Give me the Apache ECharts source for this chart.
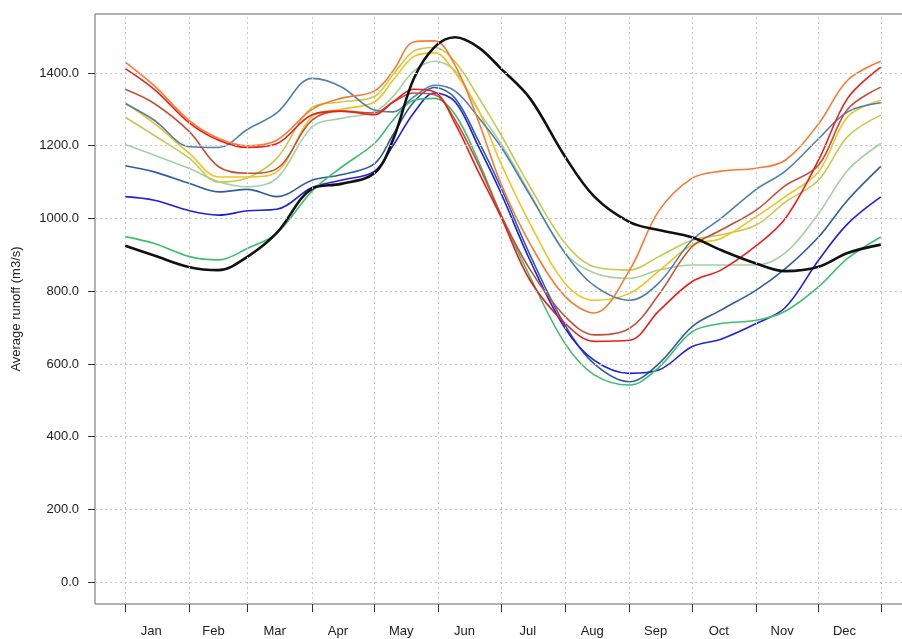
<!DOCTYPE html>
<html>
<head>
<meta charset="utf-8">
<script src="https://cdn.jsdelivr.net/npm/echarts@6/dist/echarts.min.js"></script>
<style>
  html, body { margin: 0; padding: 0; background: #fff; }
  #chart { width: 902px; height: 639px; }
</style>
</head>
<body>
<div id="chart"></div>
<script>
// day of year for each sample
var days = [1, 15, 32, 46, 60, 74, 91, 105, 121, 130, 140, 150, 160, 171, 182, 196, 213, 227, 244, 258, 274, 288, 305, 319, 335, 349, 365];

var orange      = [1430, 1365, 1268, 1220, 1200, 1215, 1300, 1330, 1350, 1405, 1485, 1488, 1420, 1270, 1096, 931, 785, 740, 858, 1020, 1110, 1130, 1138, 1160, 1260, 1380, 1432];
var red         = [1412, 1355, 1262, 1215, 1195, 1205, 1285, 1295, 1285, 1320, 1355, 1348, 1260, 1130, 1004, 830, 711, 662, 665, 745, 826, 858, 925, 1000, 1160, 1330, 1416];
var brown       = [1355, 1316, 1238, 1142, 1124, 1137, 1270, 1295, 1290, 1320, 1345, 1340, 1270, 1150, 1010, 860, 730, 680, 698, 790, 922, 968, 1023, 1090, 1146, 1300, 1361];
var steelblue   = [1316, 1270, 1197, 1195, 1245, 1290, 1385, 1362, 1298, 1293, 1334, 1366, 1350, 1279, 1197, 1064, 904, 815, 775, 822, 940, 1000, 1080, 1130, 1219, 1293, 1318];
var yellow      = [1318, 1261, 1178, 1114, 1114, 1128, 1280, 1300, 1320, 1380, 1445, 1455, 1400, 1300, 1151, 986, 821, 775, 794, 855, 927, 945, 1005, 1060, 1128, 1279, 1325];
var yellowgreen = [1278, 1228, 1165, 1100, 1112, 1165, 1305, 1320, 1335, 1395, 1460, 1470, 1430, 1335, 1230, 1087, 931, 867, 858, 895, 940, 955, 982, 1045, 1105, 1225, 1284];
var lightgreen  = [1203, 1174, 1137, 1101, 1087, 1110, 1252, 1275, 1293, 1335, 1405, 1432, 1405, 1297, 1206, 1069, 904, 850, 835, 858, 872, 872, 872, 905, 1013, 1132, 1206];
var darkblue    = [1145, 1128, 1096, 1073, 1080, 1060, 1105, 1120, 1150, 1230, 1320, 1360, 1330, 1215, 1085, 900, 705, 600, 551, 600, 702, 748, 803, 862, 949, 1050, 1143];
var blue        = [1060, 1050, 1021, 1009, 1021, 1025, 1085, 1105, 1129, 1200, 1290, 1345, 1320, 1200, 1070, 885, 697, 610, 574, 583, 647, 668, 711, 755, 885, 985, 1059];
var green       = [950, 931, 895, 886, 918, 959, 1075, 1140, 1206, 1270, 1325, 1330, 1285, 1160, 1010, 840, 655, 570, 542, 590, 688, 711, 720, 745, 812, 890, 949];
var black       = [925, 898, 866, 858, 895, 960, 1082, 1095, 1124, 1216, 1384, 1471, 1498, 1471, 1412, 1330, 1169, 1060, 990, 968, 948, 913, 876, 855, 867, 905, 928];

var monthStarts = [1, 32, 60, 91, 121, 152, 182, 213, 244, 274, 305, 335, 365];
var monthMids = [13.5, 43.5, 73, 103.5, 134, 164.5, 195, 226, 256.5, 287, 317.5, 347.5];
var monthNames = ['Jan', 'Feb', 'Mar', 'Apr', 'May', 'Jun', 'Jul', 'Aug', 'Sep', 'Oct', 'Nov', 'Dec'];
var yTicks = [0, 200, 400, 600, 800, 1000, 1200, 1400];

function pairs(vals) {
  return days.map(function (d, i) { return [d, vals[i]]; });
}

var lines = [
  { data: lightgreen, color: '#a3d1a0' },
  { data: yellowgreen, color: '#c9c84c' },
  { data: yellow, color: '#f2c31c' },
  { data: steelblue, color: '#4f7fac' },
  { data: darkblue, color: '#2f5d9e' },
  { data: blue, color: '#1f1fe0' },
  { data: green, color: '#3cbe6e' },
  { data: brown, color: '#c4503a' },
  { data: orange, color: '#f47b30' },
  { data: red, color: '#e8201c' },
  { data: black, color: '#111111', width: 2.6 }
];

var gridStyle = { color: '#c8c8c8', type: [2, 3], width: 1 };

// dotted grid lines, drawn under the curves
var series = [{
  type: 'line',
  data: [],
  silent: true,
  z: 1,
  markLine: {
    silent: true,
    symbol: ['none', 'none'],
    label: { show: false },
    lineStyle: gridStyle,
    animation: false,
    data: yTicks.map(function (v) { return { yAxis: v }; })
      .concat(monthStarts.map(function (d) { return { xAxis: d }; }))
  }
}];

lines.forEach(function (l) {
  series.push({
    type: 'line',
    data: pairs(l.data),
    smooth: 0.35,
    showSymbol: false,
    z: 3,
    lineStyle: { color: l.color, width: l.width || 1.6 },
    itemStyle: { color: l.color }
  });
});

var chart = echarts.init(document.getElementById('chart'));
chart.setOption({
  animation: false,
  backgroundColor: '#fff',
  textStyle: { fontFamily: 'Liberation Sans, Arial, sans-serif' },
  grid: {
    left: 95, top: 14, width: 816, height: 590,
    outerBoundsMode: 'none',
    show: true, borderColor: '#666', borderWidth: 1, backgroundColor: 'transparent'
  },
  xAxis: {
    type: 'value',
    min: -13.56,
    max: 379.56,
    axisLine: { show: false, onZero: false },
    axisTick: { show: true, customValues: monthStarts, length: 8, lineStyle: { color: '#333' } },
    axisLabel: {
      customValues: monthMids,
      margin: 21,
      fontSize: 13,
      color: '#222',
      formatter: function (v) {
        var i = monthMids.indexOf(v);
        return i >= 0 ? monthNames[i] : '';
      }
    },
    splitLine: { show: false }
  },
  yAxis: {
    type: 'value',
    min: -60,
    max: 1562,
    name: 'Average runoff (m3/s)',
    nameLocation: 'middle',
    nameGap: 72,
    nameRotate: 90,
    nameTextStyle: { fontSize: 13, color: '#222' },
    axisLine: { show: false, onZero: false },
    axisTick: { show: true, customValues: yTicks, length: 7, lineStyle: { color: '#333' } },
    axisLabel: {
      customValues: yTicks,
      margin: 16,
      fontSize: 13,
      color: '#222',
      formatter: function (v) { return v.toFixed(1); }
    },
    splitLine: { show: false }
  },
  series: series
});
</script>
</body>
</html>
